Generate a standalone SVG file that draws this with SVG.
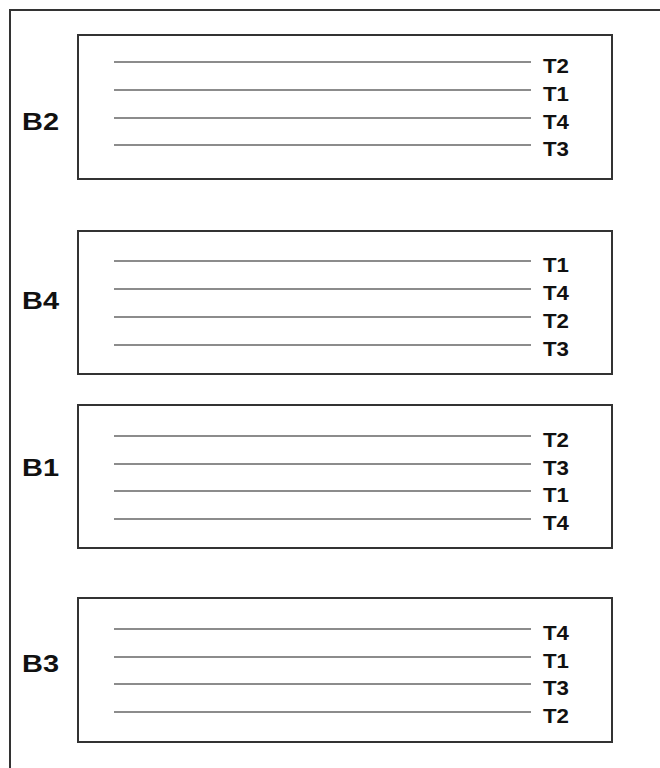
<svg xmlns="http://www.w3.org/2000/svg" width="660" height="768" viewBox="0 0 660 768">
<style>
.frame{fill:none;stroke:#333;stroke-width:2}
.box{fill:#fff;stroke:#333;stroke-width:2}
.trk{stroke:#666;stroke-width:1.6}
.bl{font-family:"Liberation Sans",Arial,sans-serif;font-weight:bold;font-size:24px;fill:#111}
.tl{font-family:"Liberation Sans",Arial,sans-serif;font-weight:bold;font-size:21px;fill:#111}
</style>
<rect width="660" height="768" fill="#fff"/>
<path class="frame" d="M10,770 V10 H662"/>
<g id="B2">
<rect class="box" x="78" y="35" width="534" height="144"/>
<text class="bl" x="22" y="130" textLength="37" lengthAdjust="spacingAndGlyphs">B2</text>
<g><line class="trk" x1="114" y1="62" x2="531" y2="62"/><text class="tl" x="543" y="73" textLength="26" lengthAdjust="spacingAndGlyphs">T2</text></g>
<g><line class="trk" x1="114" y1="90" x2="531" y2="90"/><text class="tl" x="543" y="101" textLength="26" lengthAdjust="spacingAndGlyphs">T1</text></g>
<g><line class="trk" x1="114" y1="118" x2="531" y2="118"/><text class="tl" x="543" y="129" textLength="26" lengthAdjust="spacingAndGlyphs">T4</text></g>
<g><line class="trk" x1="114" y1="145" x2="531" y2="145"/><text class="tl" x="543" y="156" textLength="26" lengthAdjust="spacingAndGlyphs">T3</text></g>
</g>
<g id="B4">
<rect class="box" x="78" y="231" width="534" height="143"/>
<text class="bl" x="22" y="309" textLength="37" lengthAdjust="spacingAndGlyphs">B4</text>
<g><line class="trk" x1="114" y1="261" x2="531" y2="261"/><text class="tl" x="543" y="272" textLength="26" lengthAdjust="spacingAndGlyphs">T1</text></g>
<g><line class="trk" x1="114" y1="289" x2="531" y2="289"/><text class="tl" x="543" y="300" textLength="26" lengthAdjust="spacingAndGlyphs">T4</text></g>
<g><line class="trk" x1="114" y1="317" x2="531" y2="317"/><text class="tl" x="543" y="328" textLength="26" lengthAdjust="spacingAndGlyphs">T2</text></g>
<g><line class="trk" x1="114" y1="345" x2="531" y2="345"/><text class="tl" x="543" y="356" textLength="26" lengthAdjust="spacingAndGlyphs">T3</text></g>
</g>
<g id="B1">
<rect class="box" x="78" y="405" width="534" height="143"/>
<text class="bl" x="22" y="476" textLength="37" lengthAdjust="spacingAndGlyphs">B1</text>
<g><line class="trk" x1="114" y1="436" x2="531" y2="436"/><text class="tl" x="543" y="447" textLength="26" lengthAdjust="spacingAndGlyphs">T2</text></g>
<g><line class="trk" x1="114" y1="464" x2="531" y2="464"/><text class="tl" x="543" y="475" textLength="26" lengthAdjust="spacingAndGlyphs">T3</text></g>
<g><line class="trk" x1="114" y1="491" x2="531" y2="491"/><text class="tl" x="543" y="502" textLength="26" lengthAdjust="spacingAndGlyphs">T1</text></g>
<g><line class="trk" x1="114" y1="519" x2="531" y2="519"/><text class="tl" x="543" y="530" textLength="26" lengthAdjust="spacingAndGlyphs">T4</text></g>
</g>
<g id="B3">
<rect class="box" x="78" y="598" width="534" height="144"/>
<text class="bl" x="22" y="672" textLength="37" lengthAdjust="spacingAndGlyphs">B3</text>
<g><line class="trk" x1="114" y1="629" x2="531" y2="629"/><text class="tl" x="543" y="640" textLength="26" lengthAdjust="spacingAndGlyphs">T4</text></g>
<g><line class="trk" x1="114" y1="657" x2="531" y2="657"/><text class="tl" x="543" y="668" textLength="26" lengthAdjust="spacingAndGlyphs">T1</text></g>
<g><line class="trk" x1="114" y1="684" x2="531" y2="684"/><text class="tl" x="543" y="695" textLength="26" lengthAdjust="spacingAndGlyphs">T3</text></g>
<g><line class="trk" x1="114" y1="712" x2="531" y2="712"/><text class="tl" x="543" y="723" textLength="26" lengthAdjust="spacingAndGlyphs">T2</text></g>
</g>
</svg>
